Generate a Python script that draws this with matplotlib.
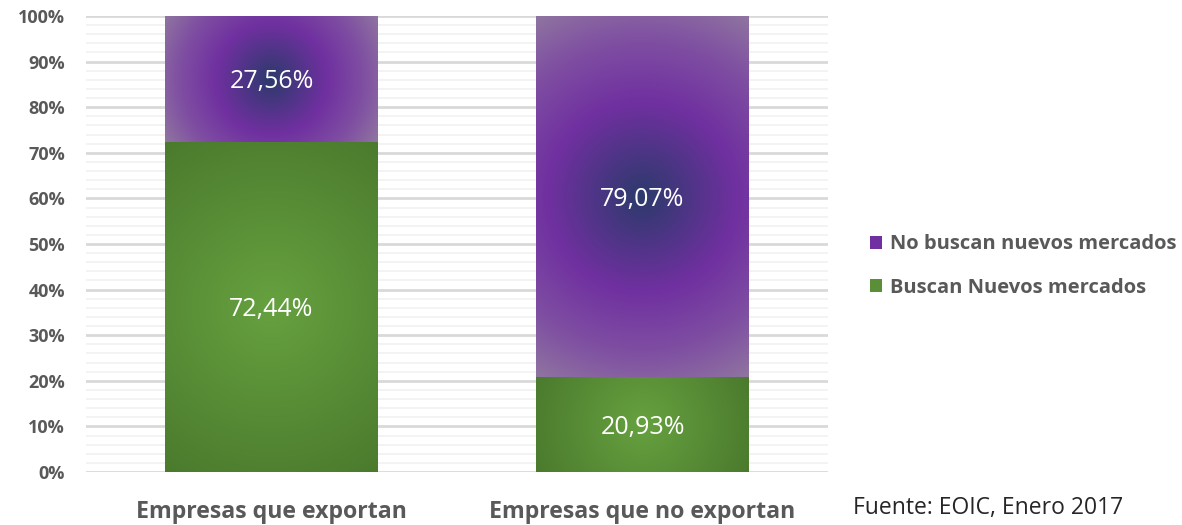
import numpy as np
import matplotlib
matplotlib.use("Agg")
import matplotlib.pyplot as plt
from matplotlib.colors import LinearSegmentedColormap
from matplotlib.patches import Patch

plt.rcParams['font.family'] = ['Open Sans', 'DejaVu Sans']

categories = ['Empresas que exportan', 'Empresas que no exportan']
buscan = [72.44, 20.93]
no_buscan = [27.56, 79.07]
buscan_labels = ['72,44%', '20,93%']
no_buscan_labels = ['27,56%', '79,07%']
series_names = ['No buscan nuevos mercados', 'Buscan Nuevos mercados']

W, H = 1182, 525
fig = plt.figure(figsize=(W / 100, H / 100), dpi=100)
ax_l, ax_b, ax_w, ax_h = 86, 53, 742, 456
ax = fig.add_axes([ax_l / W, ax_b / H, ax_w / W, ax_h / H])

purple_cmap = LinearSegmentedColormap.from_list(
    'purp', [(0, '#2c3a6c'), (0.45, '#7030a0'), (0.75, '#7f4fa2'), (1, '#8f74a0')])
green_cmap = LinearSegmentedColormap.from_list(
    'grn', [(0, '#66a13f'), (1, '#4b7a2d')])

xmin, xmax = -0.5, 1.5
bar_w = 0.574
px_x = ax_w / (xmax - xmin)
px_y = ax_h / 100.0


def grad_rect(xc, y0, y1, cmap):
    wpx = bar_w * px_x
    hpx = (y1 - y0) * px_y
    nx, ny = max(int(wpx), 2), max(int(hpx), 2)
    xx, yy = np.meshgrid(np.linspace(-wpx / 2, wpx / 2, nx),
                         np.linspace(-hpx / 2, hpx / 2, ny))
    r = np.sqrt(xx ** 2 + yy ** 2) / np.sqrt((wpx / 2) ** 2 + (hpx / 2) ** 2)
    ax.imshow(r, cmap=cmap, vmin=0, vmax=1, aspect='auto', origin='lower',
              extent=(xc - bar_w / 2, xc + bar_w / 2, y0, y1), zorder=3,
              interpolation='bilinear')


x = np.arange(len(categories))
for i in range(len(categories)):
    grad_rect(x[i], 0, buscan[i], green_cmap)
    grad_rect(x[i], buscan[i], buscan[i] + no_buscan[i], purple_cmap)
    ax.text(x[i], buscan[i] / 2, buscan_labels[i], color='white', fontsize=18,
            ha='center', va='center_baseline', zorder=4)
    ax.text(x[i], buscan[i] + no_buscan[i] / 2, no_buscan_labels[i],
            color='white', fontsize=18, ha='center', va='center_baseline',
            zorder=4)

ax.set_xlim(xmin, xmax)
ax.set_ylim(0, 100)
ax.set_yticks(np.arange(0, 101, 10))
ax.set_yticks(np.arange(0, 101, 2), minor=True)
ax.set_yticklabels([f'{v}%' for v in range(0, 101, 10)], fontsize=13,
                   fontweight='bold', color='#595959')
ax.set_xticks(x)
ax.set_xticklabels(categories, fontsize=16.7, fontweight='bold',
                   color='#595959')
ax.tick_params(axis='both', which='both', length=0)
ax.tick_params(axis='y', pad=15)
ax.tick_params(axis='x', pad=20)
ax.grid(axis='y', which='major', color='#d9d9d9', linewidth=2, zorder=0)
ax.grid(axis='y', which='minor', color='#f2f2f2', linewidth=1.3, zorder=0)
ax.set_axisbelow(True)
for s in ax.spines.values():
    s.set_visible(False)

handles = [Patch(facecolor='#7030a0', edgecolor='none'),
           Patch(facecolor='#5a8f37', edgecolor='none')]
fig.legend(handles, series_names, loc='center left',
           bbox_to_anchor=(852 / W, 1 - 266 / H), frameon=False,
           prop={'size': 14.5, 'weight': 'bold'}, labelcolor='#595959',
           handlelength=0.6, handleheight=0.6, handletextpad=0.4,
           labelspacing=1.15)

fig.text(853 / W, 1 - 508 / H, 'Fuente: EOIC, Enero 2017', fontsize=16.5,
         color='#262626', va='center', ha='left')

fig.savefig('out.png', dpi=100)
